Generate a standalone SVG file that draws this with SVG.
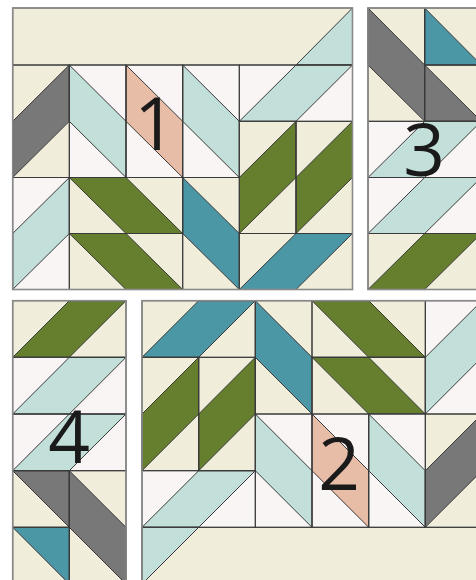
<svg xmlns="http://www.w3.org/2000/svg" width="476" height="580" viewBox="0 0 476 580">
<style>
.cr{fill:#f0eedb}
.wh{fill:#f9f5f5}
.lb{fill:#c3dfd9}
.gy{fill:#787878}
.tl{fill:#4b97a6}
.gr{fill:#667f2e}
.sa{fill:#e8bda7}
.s{stroke:#3a3a3a;stroke-width:1;stroke-linejoin:round}
.u{fill:none;stroke:#3a3a3a;stroke-width:1}
.b{fill:none;stroke:#8a8a8a;stroke-width:1.6}
.n{font-family:"Open Sans","Liberation Sans",sans-serif;font-size:73px;fill:#1a1a1a;text-anchor:middle}
</style>
<rect width="476" height="580" fill="#ffffff"/>

<g id="block1">
<rect class="cr" x="12.7" y="8" width="339.8" height="57"/>
<polygon class="lb s" points="296,65 352.5,8 352.5,65"/>
<rect class="cr" x="12.7" y="65" width="56.6" height="112.5"/>
<polygon class="gy s" points="69.3,65 69.3,121.3 12.7,177.5 12.7,121.3"/>
<rect class="wh" x="69.3" y="65" width="170" height="112.5"/>
<polygon class="lb s" points="69.3,65 126,121.3 126,177.5 69.3,121.3"/>
<polygon class="sa s" points="126,65 182.7,121.3 182.7,177.5 126,121.3"/>
<polygon class="lb s" points="182.7,65 239.3,121.3 239.3,177.5 182.7,121.3"/>
<rect class="wh" x="239.3" y="65" width="113.2" height="56.3"/>
<polygon class="lb s" points="239.3,121.3 296,65 352.5,65 296,121.3"/>
<rect class="cr" x="239.3" y="121.3" width="113.2" height="112.2"/>
<polygon class="gr s" points="296,121.3 296,177.5 239.3,233.5 239.3,177.5"/>
<polygon class="gr s" points="352.5,121.3 352.5,177.5 296,233.5 296,177.5"/>
<rect class="wh" x="12.7" y="177.5" width="56.6" height="112"/>
<polygon class="lb s" points="69.3,177.5 69.3,233.5 12.7,289.5 12.7,233.5"/>
<rect class="cr" x="69.3" y="177.5" width="113.4" height="112"/>
<polygon class="gr s" points="69.3,177.5 126,177.5 182.7,233.5 126,233.5"/>
<polygon class="gr s" points="69.3,233.5 126,233.5 182.7,289.5 126,289.5"/>
<rect class="cr" x="182.7" y="177.5" width="56.6" height="112"/>
<polygon class="tl s" points="182.7,177.5 239.3,233.5 239.3,289.5 182.7,233.5"/>
<rect class="cr" x="239.3" y="233.5" width="113.2" height="56"/>
<polygon class="tl s" points="239.3,289.5 296,233.5 352.5,233.5 296,289.5"/>
<rect class="u" x="12.7" y="8" width="339.8" height="57"/>
<rect class="u" x="12.7" y="65" width="56.6" height="112.5"/>
<rect class="u" x="69.3" y="65" width="56.7" height="112.5"/>
<rect class="u" x="126" y="65" width="56.7" height="112.5"/>
<rect class="u" x="182.7" y="65" width="56.6" height="112.5"/>
<rect class="u" x="239.3" y="65" width="113.2" height="56.3"/>
<rect class="u" x="239.3" y="121.3" width="56.7" height="112.2"/>
<rect class="u" x="296" y="121.3" width="56.5" height="112.2"/>
<rect class="u" x="12.7" y="177.5" width="56.6" height="112"/>
<rect class="u" x="69.3" y="177.5" width="113.4" height="56"/>
<rect class="u" x="69.3" y="233.5" width="113.4" height="56"/>
<rect class="u" x="182.7" y="177.5" width="56.6" height="112"/>
<rect class="u" x="239.3" y="233.5" width="113.2" height="56"/>
<rect class="b" x="12.7" y="8" width="339.8" height="281.5"/>
<text class="n" x="155" y="149.5">1</text>
</g>

<g id="block3">
<rect class="cr" x="368" y="8" width="113.3" height="113.3"/>
<polygon class="gy s" points="368,8 424.7,65 424.7,121.3 368,65"/>
<polygon class="tl s" points="424.7,8 424.7,65 481.3,65"/>
<polygon class="gy s" points="424.7,65 424.7,121.3 481.3,121.3"/>
<rect class="wh" x="368" y="121.3" width="113.3" height="112.2"/>
<polygon class="lb s" points="368,177.5 424.7,121.3 481.3,121.3 424.7,177.5"/>
<polygon class="lb s" points="368,233.5 424.7,177.5 481.3,177.5 424.7,233.5"/>
<rect class="cr" x="368" y="233.5" width="113.3" height="56"/>
<polygon class="gr s" points="368,289.5 424.7,233.5 481.3,233.5 424.7,289.5"/>
<rect class="u" x="368" y="8" width="56.7" height="113.3"/>
<rect class="u" x="424.7" y="8" width="56.6" height="57"/>
<rect class="u" x="424.7" y="65" width="56.6" height="56.3"/>
<rect class="u" x="368" y="121.3" width="113.3" height="56.2"/>
<rect class="u" x="368" y="177.5" width="113.3" height="56"/>
<rect class="u" x="368" y="233.5" width="113.3" height="56"/>
<rect class="b" x="368" y="8" width="113.3" height="281.5"/>
<text class="n" x="424" y="176">3</text>
</g>

<g id="block4">
<rect class="cr" x="12.7" y="300.7" width="113.3" height="56.6"/>
<polygon class="gr s" points="12.7,357.3 69.3,300.7 126,300.7 69.3,357.3"/>
<rect class="wh" x="12.7" y="357.3" width="113.3" height="113.4"/>
<polygon class="lb s" points="12.7,414 69.3,357.3 126,357.3 69.3,414"/>
<polygon class="lb s" points="12.7,470.7 69.3,414 126,414 69.3,470.7"/>
<rect class="cr" x="12.7" y="470.7" width="113.3" height="113.3"/>
<polygon class="gy s" points="12.7,470.7 69.3,470.7 69.3,527.3"/>
<polygon class="tl s" points="12.7,527.3 69.3,527.3 69.3,584"/>
<polygon class="gy s" points="69.3,470.7 126,527.3 126,584 69.3,527.3"/>
<rect class="u" x="12.7" y="300.7" width="113.3" height="56.6"/>
<rect class="u" x="12.7" y="357.3" width="113.3" height="56.7"/>
<rect class="u" x="12.7" y="414" width="113.3" height="56.7"/>
<rect class="u" x="12.7" y="470.7" width="56.6" height="56.6"/>
<rect class="u" x="12.7" y="527.3" width="56.6" height="56.7"/>
<rect class="u" x="69.3" y="470.7" width="56.7" height="113.3"/>
<rect class="b" x="12.7" y="300.7" width="113.3" height="283.3"/>
<text class="n" x="69" y="463">4</text>
</g>

<g id="block2">
<rect class="cr" x="142" y="300.7" width="340" height="226.6"/>
<polygon class="tl s" points="142,357.3 198.7,300.7 255.3,300.7 198.7,357.3"/>
<polygon class="tl s" points="255.3,300.7 312,357.3 312,414 255.3,357.3"/>
<polygon class="gr s" points="312,300.7 368.7,300.7 425.3,357.3 368.7,357.3"/>
<polygon class="gr s" points="312,357.3 368.7,357.3 425.3,414 368.7,414"/>
<rect class="wh" x="425.3" y="300.7" width="56.7" height="113.3"/>
<polygon class="lb s" points="482,300.7 482,357.3 425.3,414 425.3,357.3"/>
<polygon class="gr s" points="198.7,357.3 198.7,414 142,470.7 142,414"/>
<polygon class="gr s" points="255.3,357.3 255.3,414 198.7,470.7 198.7,414"/>
<rect class="wh" x="255.3" y="414" width="170" height="113.3"/>
<polygon class="lb s" points="255.3,414 312,470.7 312,527.3 255.3,470.7"/>
<polygon class="sa s" points="312,414 368.7,470.7 368.7,527.3 312,470.7"/>
<polygon class="lb s" points="368.7,414 425.3,470.7 425.3,527.3 368.7,470.7"/>
<polygon class="gy s" points="482,414 482,470.7 425.3,527.3 425.3,470.7"/>
<rect class="wh" x="142" y="470.7" width="113.3" height="56.6"/>
<polygon class="lb s" points="142,527.3 198.7,470.7 255.3,470.7 198.7,527.3"/>
<rect class="cr" x="142" y="527.3" width="340" height="56.7"/>
<polygon class="lb s" points="142,527.3 198.7,527.3 142,584"/>
<rect class="u" x="142" y="300.7" width="113.3" height="56.6"/>
<rect class="u" x="255.3" y="300.7" width="56.7" height="113.3"/>
<rect class="u" x="312" y="300.7" width="113.3" height="56.6"/>
<rect class="u" x="312" y="357.3" width="113.3" height="56.7"/>
<rect class="u" x="425.3" y="300.7" width="56.7" height="113.3"/>
<rect class="u" x="142" y="357.3" width="56.7" height="113.4"/>
<rect class="u" x="198.7" y="357.3" width="56.6" height="113.4"/>
<rect class="u" x="255.3" y="414" width="56.7" height="113.3"/>
<rect class="u" x="312" y="414" width="56.7" height="113.3"/>
<rect class="u" x="368.7" y="414" width="56.6" height="113.3"/>
<rect class="u" x="425.3" y="414" width="56.7" height="113.3"/>
<rect class="u" x="142" y="470.7" width="113.3" height="56.6"/>
<rect class="u" x="142" y="527.3" width="340" height="56.7"/>
<rect class="b" x="142" y="300.7" width="340" height="283.3"/>
<text class="n" x="339" y="490">2</text>
</g>
</svg>
